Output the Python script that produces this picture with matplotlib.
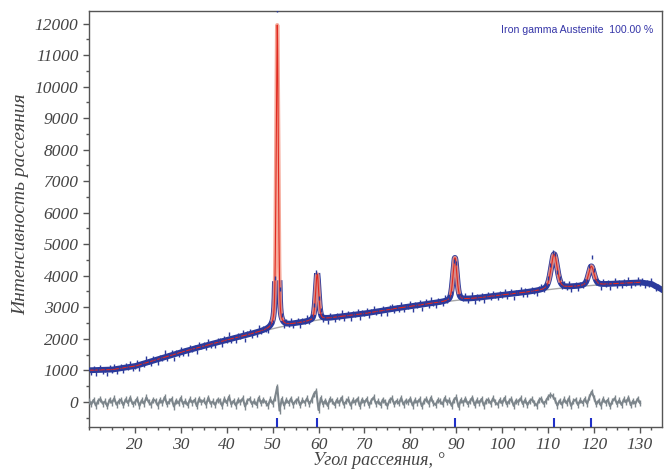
import numpy as np
import matplotlib.pyplot as plt
from matplotlib.ticker import MultipleLocator

# background knots (2theta, counts)
bg_x = [10, 15, 20, 25, 30, 35, 40, 45, 50, 55, 60, 65, 70, 75, 80, 85, 90,
        95, 100, 105, 110, 115, 120, 125, 130, 132.5, 135]
bg_y = [1000, 1020, 1130, 1350, 1570, 1770, 1960, 2140, 2320, 2480, 2600, 2710,
        2800, 2920, 3030, 3130, 3220, 3300, 3390, 3470, 3560, 3640, 3700, 3750,
        3790, 3740, 3540]

# austenite reflections
peak_pos = [51.0, 59.7, 89.7, 111.3, 119.4]
peak_height = [9600, 1450, 1350, 1100, 600]
peak_fwhm = [0.55, 0.8, 1.0, 1.6, 1.4]

# difference curve (obs - calc), 0.5 deg step from 10 to 130
diff_start, diff_step = 10.0, 0.5
diff = [
    40, -80, 60, -120, 30, 90, -60, 10, -140, 70, -30, 110, -90, 20, 60, -110, 80, -40, 130, -70,
    -20, 100, -130, 50, -60, 140, -10, -90, 70, 30, -120, 60, -40, 150, -80, 10, 90, -150, 40, -50,
    120, -70, 20, -110, 80, -30, 60, -140, 100, -20, 50, -90, 130, -60, 10, -100, 70, 40, -130, 90,
    -40, 160, -80, 30, -120, 60, -10, 110, -150, 40, 90, -70, 20, -100, 130, -50, 70, -30, -120, 80,
    -60, 120, 480, -280, 90, -120, 60, -40, 100, -90, 30, 80, -110, 50, -30, 110, -70, 60, 250, 340,
    -260, 120, -80, 40, -130, 90, 20, -100, 60, -40, 130, -90, 10, 80, -120, 50, -20, 100, -140, 70,
    -30, 90, -110, 40, 140, -60, 20, -100, 70, -10, -130, 60, 110, -80, 30, -50, 120, -90, 40, -20,
    100, -120, 50, -30, 80, -140, 20, 90, -60, 130, -40, -100, 60, 10, -80, 120, -20, 50, -130, 70,
    140, -160, 60, -30, 100, -70, 20, 130, -110, 50, -40, 90, -120, 30, 70, -60, 110, -20, -90, 60,
    -50, 120, -80, 20, 90, -130, 40, -10, 110, -70, 60, -100, 30, 80, -40, -120, 50, 100, -60, 20,
    150, 220, 180, 60, -120, 40, -90, 80, -50, 110, -130, 20, 70, -100, 50, -40, 90, -60, 150, 320,
    130, -80, 40, -120, 90, -30, 60, -140, 20, 110, -70, 50, -100, 80, -20, 130, -110, 30, -60, 100,
    -40,
]
# observed scatter past the end of the difference curve (130.5 .. 134.5)
tail_noise = [70, -90, 40, -60, 110, -30, -80, 50, -40]

legend_text = "Iron gamma Austenite  100.00 %"


def background(x):
    return np.interp(x, bg_x, bg_y)


def profile(x):
    y = background(x)
    for p, h, w in zip(peak_pos, peak_height, peak_fwhm):
        g = np.exp(-4 * np.log(2) * ((x - p) / w) ** 2)
        l = 1 / (1 + 4 * ((x - p) / w) ** 2)
        y = y + h * (0.6 * g + 0.4 * l)
    return y


fig = plt.figure(figsize=(6.64, 4.71), dpi=100)
ax = fig.add_axes([0.134, 0.0934, 0.863, 0.8832])

xf = np.arange(10, 135.01, 0.01)
calc = profile(xf)
above = calc - background(xf)
xd = diff_start + diff_step * np.arange(len(diff))
xt = xd[-1] + diff_step * np.arange(1, len(tail_noise) + 1)
obs_x = np.concatenate([xd, xt])
obs_y = np.concatenate([profile(xd) + np.array(diff), profile(xt) + np.array(tail_noise)])

blue = '#2b3a9c'
# dense observed band, kept off the tall peak tops (shown salmon there)
ax.plot(xf, np.where(above > 1400, np.nan, calc), color=blue, lw=4.2, zorder=2)
ax.plot(xf, background(xf), color='#a8a8a8', lw=1.0, zorder=1)
m = xf <= 130
ax.plot(xf[m], np.where(above[m] > 250, calc[m], np.nan), color='#f49a88', lw=3.0,
        alpha=0.85, zorder=3)
ax.plot(xf[m], calc[m], color='#e02a20', lw=0.8, zorder=4)
ax.plot(obs_x, obs_y, ls='none', marker='|', ms=3.5, mew=1.0, color=blue, zorder=5)

grey = '#7d868c'
ax.plot(xd, diff, color=grey, lw=1.5, zorder=3)
ax.plot(xd, diff, ls='none', marker='|', ms=5, mew=1.0, color=grey, zorder=3)
ax.vlines(peak_pos, -790, -520, color='#2030c8', lw=1.5, zorder=4)

ax.set_xlim(10, 134.8)
ax.set_ylim(-800, 12400)
ax.xaxis.set_major_locator(MultipleLocator(10))
ax.xaxis.set_minor_locator(MultipleLocator(2.5))
ax.yaxis.set_major_locator(MultipleLocator(1000))
ax.yaxis.set_minor_locator(MultipleLocator(500))
ax.set_xticks([20, 30, 40, 50, 60, 70, 80, 90, 100, 110, 120, 130])
ax.set_yticks(range(0, 12001, 1000))

for s in ax.spines.values():
    s.set_color('#555555')
    s.set_linewidth(1.0)
ax.tick_params(which='major', length=4, width=1, color='#555555', direction='out')
ax.tick_params(which='minor', length=2.5, width=1, color='#555555', direction='out')

for lab in ax.get_xticklabels() + ax.get_yticklabels():
    lab.set_fontfamily('Liberation Serif')
    lab.set_fontstyle('italic')
    lab.set_fontsize(12.5)
    lab.set_color('#444444')

ax.set_ylabel("Интенсивность рассеяния", family='Liberation Serif', style='italic',
              size=14, color='#444444')
ax.yaxis.set_label_coords(-0.105, 0.536)
ax.set_xlabel("Угол рассеяния, °", family='Liberation Serif', style='italic',
              size=13, color='#444444')
ax.xaxis.set_label_coords(0.506, -0.06)

ax.text(0.985, 0.955, legend_text, transform=ax.transAxes, ha='right', va='center',
        color='#3535a8', fontsize=7.6, family='Liberation Sans')

fig.savefig('out.png', dpi=100)
